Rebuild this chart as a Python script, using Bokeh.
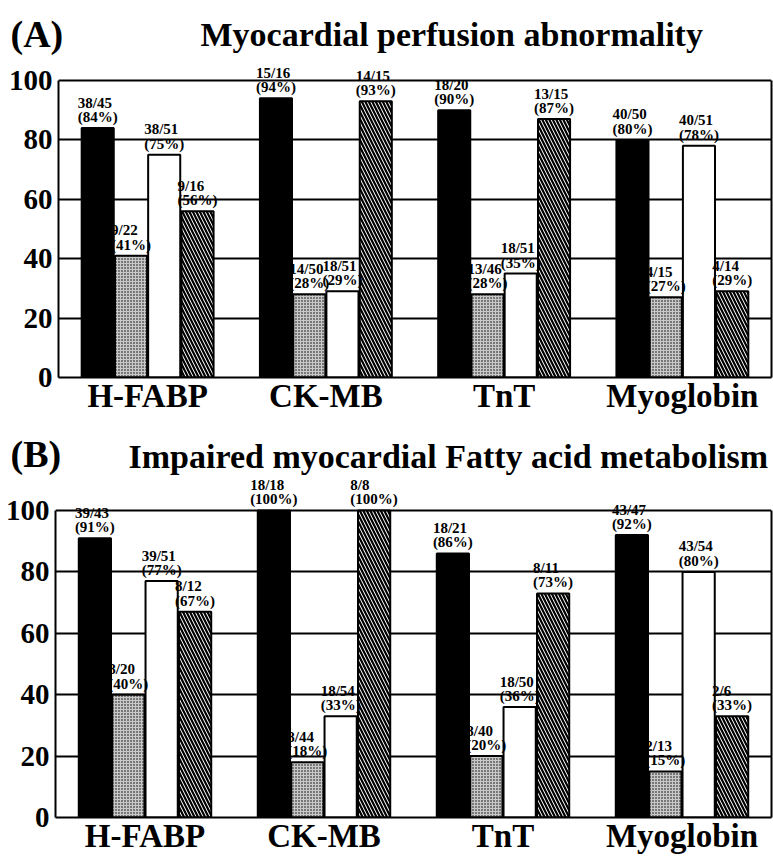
from bokeh.plotting import figure
from bokeh.models import (ColumnDataSource, FactorRange, LabelSet, Label, FixedTicker,
                          LinearAxis, Range1d)
from bokeh.transform import dodge
from bokeh.layouts import column
from bokeh.embed import file_html
from bokeh.resources import INLINE

categories = ["H-FABP", "CK-MB", "TnT", "Myoglobin"]
y_ticks = [0, 20, 40, 60, 80, 100]

# Panel A: Myocardial perfusion abnormality
a_black = [84, 94, 90, 80]
a_black_lbl = ["38/45\n(84%)", "15/16\n(94%)", "18/20\n(90%)", "40/50\n(80%)"]
a_stip = [41, 28, 28, 27]
a_stip_lbl = ["9/22\n(41%)", "14/50\n(28%)", "13/46\n(28%)", "4/15\n(27%)"]
a_white = [75, 29, 35, 78]
a_white_lbl = ["38/51\n(75%)", "18/51\n(29%)", "18/51\n(35%)", "40/51\n(78%)"]
a_hatch = [56, 93, 87, 29]
a_hatch_lbl = ["9/16\n(56%)", "14/15\n(93%)", "13/15\n(87%)", "4/14\n(29%)"]

# Panel B: Impaired myocardial fatty acid metabolism
b_black = [91, 100, 86, 92]
b_black_lbl = ["39/43\n(91%)", "18/18\n(100%)", "18/21\n(86%)", "43/47\n(92%)"]
b_stip = [40, 18, 20, 15]
b_stip_lbl = ["8/20\n(40%)", "8/44\n(18%)", "8/40\n(20%)", "2/13\n(15%)"]
b_white = [77, 33, 36, 80]
b_white_lbl = ["39/51\n(77%)", "18/54\n(33%)", "18/50\n(36%)", "43/54\n(80%)"]
b_hatch = [67, 100, 73, 33]
b_hatch_lbl = ["8/12\n(67%)", "8/8\n(100%)", "8/11\n(73%)", "2/6\n(33%)"]

FONT = "Liberation Serif"
OFFSETS = [-0.28, -0.093, 0.093, 0.28]
BAR_W = 0.18
PAGE_W = 773


def title_strip(tag, title, height, tag_y, title_x, title_y, title_size, baseline):
    t = figure(x_range=Range1d(0, PAGE_W), y_range=Range1d(0, height),
               frame_width=PAGE_W, frame_height=height, frame_align=False,
               min_border_left=0, min_border_right=0, min_border_top=0, min_border_bottom=0,
               x_axis_location=None, y_axis_location=None,
               output_backend="svg", toolbar_location=None)
    t.grid.visible = False
    t.outline_line_color = None
    t.add_layout(Label(x=10, y=tag_y, text=tag, text_font=FONT,
                       text_font_style="bold", text_font_size="38px",
                       text_baseline=baseline, text_color="black"))
    t.add_layout(Label(x=title_x, y=title_y, text=title, text_font=FONT,
                       text_font_style="bold", text_font_size=title_size,
                       text_baseline=baseline, text_color="black"))
    return t


def make_panel(series, frame_w, frame_h, b_left, y_end):
    p = figure(x_range=FactorRange(*categories), y_range=Range1d(0, y_end),
               frame_width=frame_w, frame_height=frame_h, frame_align=False,
               min_border_left=b_left, min_border_right=2,
               min_border_top=0, min_border_bottom=0,
               output_backend="svg", toolbar_location=None)
    p.outline_line_color = None
    p.xgrid.grid_line_color = None
    p.ygrid.grid_line_color = "black"
    p.ygrid.grid_line_width = 1.8
    p.ygrid.ticker = FixedTicker(ticks=y_ticks[1:])
    p.yaxis.ticker = FixedTicker(ticks=y_ticks)
    p.yaxis.bounds = (0, 100)
    for ax in (p.xaxis, p.yaxis):
        ax.axis_line_color = "black"
        ax.axis_line_width = 2
        ax.major_tick_line_color = None
        ax.minor_tick_line_color = None
        ax.major_tick_out = 0
        ax.major_tick_in = 0
        ax.minor_tick_out = 0
        ax.major_label_text_font = FONT
        ax.major_label_text_font_style = "bold"
        ax.major_label_text_color = "black"
    p.yaxis.major_label_text_font_size = "29px"
    p.yaxis.major_label_standoff = 6
    p.xaxis.major_label_text_font_size = "33px"
    p.xaxis.major_label_standoff = 0
    right = LinearAxis(bounds=(0, 100), ticker=FixedTicker(ticks=[]),
                       axis_line_color="black", axis_line_width=2,
                       major_tick_line_color=None, minor_tick_line_color=None,
                       major_tick_out=0, major_tick_in=0)
    p.add_layout(right, "right")

    styles = [
        dict(fill_color="black"),
        dict(fill_color="#c8c8c8", hatch_pattern="dot", hatch_color="black",
             hatch_scale=3, hatch_weight=0.8),
        dict(fill_color="white"),
        dict(fill_color="white", hatch_pattern="left_diagonal_line", hatch_color="black",
             hatch_scale=7, hatch_weight=2.2),
    ]
    for (vals, lbls), off, st in zip(series, OFFSETS, styles):
        src = ColumnDataSource(dict(cat=categories, val=vals, lbl=lbls))
        xs = dodge("cat", off, range=p.x_range)
        p.vbar(x=xs, top="val", width=BAR_W, source=src,
               line_color="black", line_width=2, **st)
        p.add_layout(LabelSet(x=xs, y="val", text="lbl", source=src, y_offset=3,
                              text_align="center", text_baseline="bottom",
                              text_font=FONT, text_font_style="bold",
                              text_font_size="15px", text_line_height=0.9,
                              text_color="black"))
    return p


tA = title_strip("(A)", "Myocardial perfusion abnormality", 62, 29, 200, 28, "34px", "alphabetic")
pA = make_panel([(a_black, a_black_lbl), (a_stip, a_stip_lbl), (a_white, a_white_lbl), (a_hatch, a_hatch_lbl)],
                713, 315, 58, 106.06)
tB = title_strip("(B)", "Impaired myocardial Fatty acid metabolism", 59, 1, 128, 1, "34px", "bottom")
pB = make_panel([(b_black, b_black_lbl), (b_stip, b_stip_lbl), (b_white, b_white_lbl), (b_hatch, b_hatch_lbl)],
                716, 342, 55, 111.4)

layout = column(tA, pA, tB, pB, spacing=0)
open("out.html", "w").write(file_html(layout, INLINE))
